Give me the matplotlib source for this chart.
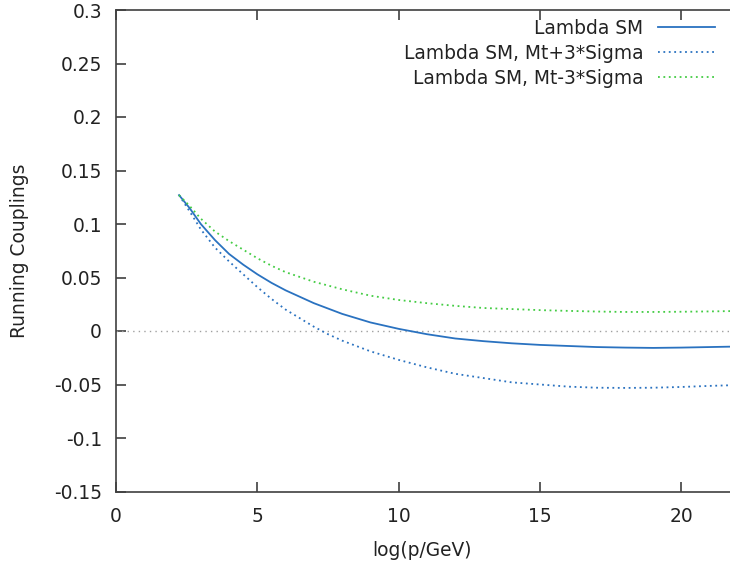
import numpy as np
import matplotlib
matplotlib.use('Agg')
import matplotlib.pyplot as plt

# running quartic coupling vs log(p/GeV)
x_sm = [2.23, 2.6, 3.0, 3.5, 4.0, 4.5, 5.0, 5.5, 6.0, 7.0, 8.0, 9.0, 10.0, 10.5,
        11.0, 12.0, 13.0, 14.0, 15.0, 16.0, 17.0, 18.0, 19.0, 20.0, 21.0, 22.0]
lam_sm = [0.127, 0.115, 0.100, 0.085, 0.072, 0.062, 0.053, 0.045, 0.038, 0.026,
          0.016, 0.008, 0.002, -0.0005, -0.003, -0.007, -0.0095, -0.0115, -0.013,
          -0.014, -0.015, -0.0155, -0.0158, -0.0155, -0.015, -0.0145]

x_up = [2.23, 2.6, 3.0, 3.5, 4.0, 4.5, 5.0, 5.5, 6.0, 6.5, 7.0, 7.5, 8.0, 9.0,
        10.0, 11.0, 12.0, 13.0, 14.0, 15.0, 16.0, 17.0, 18.0, 19.0, 20.0, 21.0, 22.0]
lam_up = [0.127, 0.112, 0.095, 0.078, 0.065, 0.053, 0.041, 0.030, 0.020, 0.012,
          0.004, -0.003, -0.009, -0.019, -0.027, -0.034, -0.040, -0.044, -0.048,
          -0.050, -0.052, -0.053, -0.0532, -0.0530, -0.0523, -0.0513, -0.0505]

x_dn = [2.23, 2.6, 3.0, 3.5, 4.0, 4.5, 5.0, 5.5, 6.0, 7.0, 8.0, 9.0, 10.0, 11.0,
        12.0, 13.0, 14.0, 15.0, 16.0, 17.0, 18.0, 19.0, 20.0, 21.0, 22.0]
lam_dn = [0.127, 0.117, 0.105, 0.093, 0.084, 0.076, 0.068, 0.061, 0.055, 0.046,
          0.039, 0.033, 0.029, 0.026, 0.0235, 0.0215, 0.0205, 0.0195, 0.0188,
          0.0182, 0.0178, 0.0178, 0.018, 0.0183, 0.0187]

xticks = [0, 5, 10, 15, 20]
yticks = [-0.15, -0.1, -0.05, 0, 0.05, 0.1, 0.15, 0.2, 0.25, 0.3]

plt.rcParams['font.family'] = 'DejaVu Sans'
plt.rcParams['font.size'] = 13.4
plt.rcParams['axes.unicode_minus'] = False

fig = plt.figure(figsize=(7.3, 5.64), dpi=100)
# gnuplot style canvas, the right border is cut off in the reference
ax = fig.add_axes([116/730, (564-491.5)/564, 1 - 116/730, (491.5-10)/564])

ax.axhline(0, color='#a0a0a0', lw=1, ls=(0, (1, 3)))
ax.plot(x_sm, lam_sm, color='#2a72c0', lw=1.3, label='Lambda SM')
ax.plot(x_up, lam_up, color='#2a72c0', lw=1.3, ls=(0, (1, 2)),
        label='Lambda SM, Mt+3*Sigma')
ax.plot(x_dn, lam_dn, color='#44cc44', lw=1.3, ls=(0, (1, 2)),
        label='Lambda SM, Mt-3*Sigma')

ax.set_xlim(0, (730-116)/28.27)
ax.set_ylim(-0.15, 0.3)
ax.set_xticks(xticks)
ax.set_yticks(yticks)
ax.set_yticklabels(['%g' % v for v in yticks])

ax.spines['right'].set_visible(False)
for s in ['left', 'bottom', 'top']:
    ax.spines[s].set_color('#404040')
    ax.spines[s].set_linewidth(1.2)
ax.tick_params(direction='in', length=7, width=1.2, color='#404040',
               top=True, right=False, labelcolor='#222222')
ax.tick_params(axis='x', pad=10.8)
ax.tick_params(axis='y', pad=10)

ax.set_xlabel('log(p/GeV)', color='#222222', va='center')
ax.set_ylabel('Running Couplings', color='#222222', va='center')
ax.xaxis.set_label_coords(0.498, (491.5-550)/481.5)
ax.yaxis.set_label_coords((19-116)/614, 0.5)

leg = ax.legend(loc='upper right', bbox_to_anchor=(715/730, (564-19)/564),
                bbox_transform=fig.transFigure, frameon=False, markerfirst=False,
                borderpad=0, borderaxespad=0, handlelength=3.05,
                handletextpad=0.8, labelspacing=0.32)
for t in leg.get_texts():
    t.set_ha('right')
    t.set_color('#222222')

fig.savefig('out.png', dpi=100)
